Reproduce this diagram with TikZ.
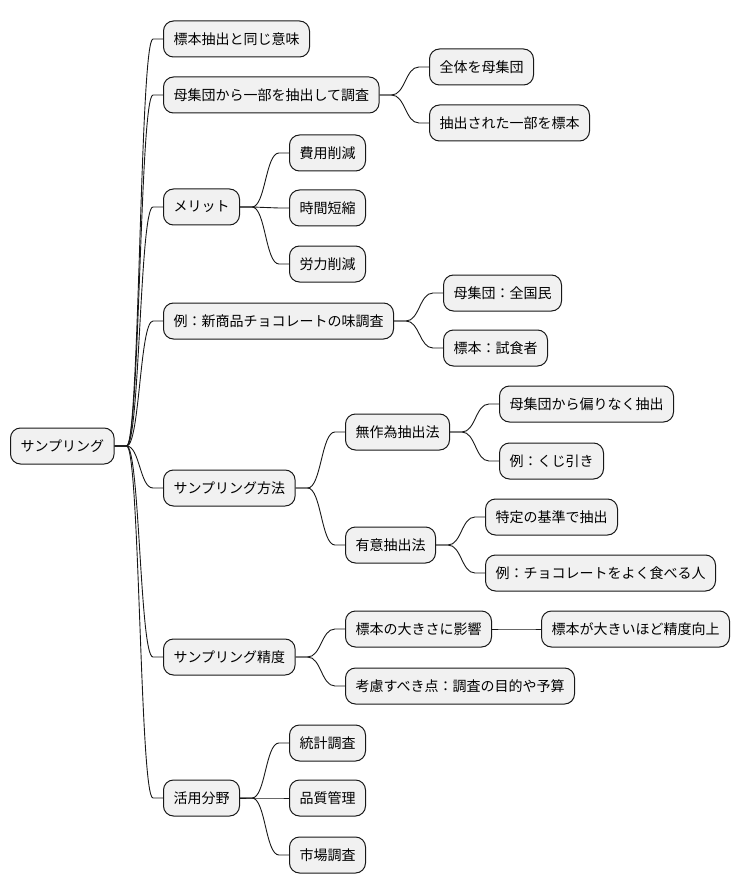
\documentclass[tikz,border=0pt]{standalone}
\usepackage{fontspec}
\setmainfont{Noto Sans CJK JP}
\usetikzlibrary{calc}
\definecolor{boxfill}{HTML}{F1F1F1}
\definecolor{lineclr}{HTML}{181818}
\tikzset{
  mm/.style={draw=lineclr, line width=1pt, fill=boxfill, rounded corners=10pt,
    minimum height=36pt, inner xsep=10pt, inner ysep=0pt, anchor=west,
    font=\fontsize{14pt}{16pt}\selectfont, text=black},
  conn/.style={draw=lineclr, line width=0.9pt}
}
\newcommand\mmlink[2]{%
  \path (#1.east) ++(12pt,0) coordinate (s) (#2.west) ++(-10pt,0) coordinate (t);
  \draw[conn] let \p1=(s), \p2=(t) in (#1.east) -- (s)
    .. controls ({(\x1+\x2)/2},\y1) and ({(\x1+\x2)/2},\y2) .. (t) -- (#2.west);%
}
\begin{document}
\begin{tikzpicture}[x=1pt,y=-1pt]
\useasboundingbox (0,0) rectangle (740,893);
\node[mm] (r) at (10,446) {サンプリング};
\node[mm] (a1) at (163,39) {標本抽出と同じ意味};
\node[mm] (a2) at (163,95) {母集団から一部を抽出して調査};
\node[mm] (a3) at (163,207) {メリット};
\node[mm] (a4) at (163,321) {例：新商品チョコレートの味調査};
\node[mm] (a5) at (163,488) {サンプリング方法};
\node[mm] (a6) at (163,657) {サンプリング精度};
\node[mm] (a7) at (163,798) {活用分野};
\node[mm] (b1) at (429,67) {全体を母集団};
\node[mm] (b2) at (429,123) {抽出された一部を標本};
\node[mm] (c1) at (289,153) {費用削減};
\node[mm] (c2) at (289,208) {時間短縮};
\node[mm] (c3) at (289,264) {労力削減};
\node[mm] (d1) at (443,293) {母集団：全国民};
\node[mm] (d2) at (443,348) {標本：試食者};
\node[mm] (e1) at (345,432) {無作為抽出法};
\node[mm] (e2) at (345,545) {有意抽出法};
\node[mm] (f1) at (345,629) {標本の大きさに影響};
\node[mm] (f2) at (345,686) {考慮すべき点：調査の目的や予算};
\node[mm] (g1) at (289,743) {統計調査};
\node[mm] (g2) at (289,798) {品質管理};
\node[mm] (g3) at (289,855) {市場調査};
\node[mm] (e11) at (499,404) {母集団から偏りなく抽出};
\node[mm] (e12) at (499,461) {例：くじ引き};
\node[mm] (e21) at (485,517) {特定の基準で抽出};
\node[mm] (e22) at (485,573) {例：チョコレートをよく食べる人};
\node[mm] (f11) at (541,629) {標本が大きいほど精度向上};
\foreach \c in {a1,a2,a3,a4,a5,a6,a7} {\mmlink{r}{\c}}
\mmlink{a2}{b1}\mmlink{a2}{b2}
\mmlink{a3}{c1}\mmlink{a3}{c2}\mmlink{a3}{c3}
\mmlink{a4}{d1}\mmlink{a4}{d2}
\mmlink{a5}{e1}\mmlink{a5}{e2}
\mmlink{a6}{f1}\mmlink{a6}{f2}
\mmlink{a7}{g1}\mmlink{a7}{g2}\mmlink{a7}{g3}
\mmlink{e1}{e11}\mmlink{e1}{e12}
\mmlink{e2}{e21}\mmlink{e2}{e22}
\mmlink{f1}{f11}
\end{tikzpicture}
\end{document}
